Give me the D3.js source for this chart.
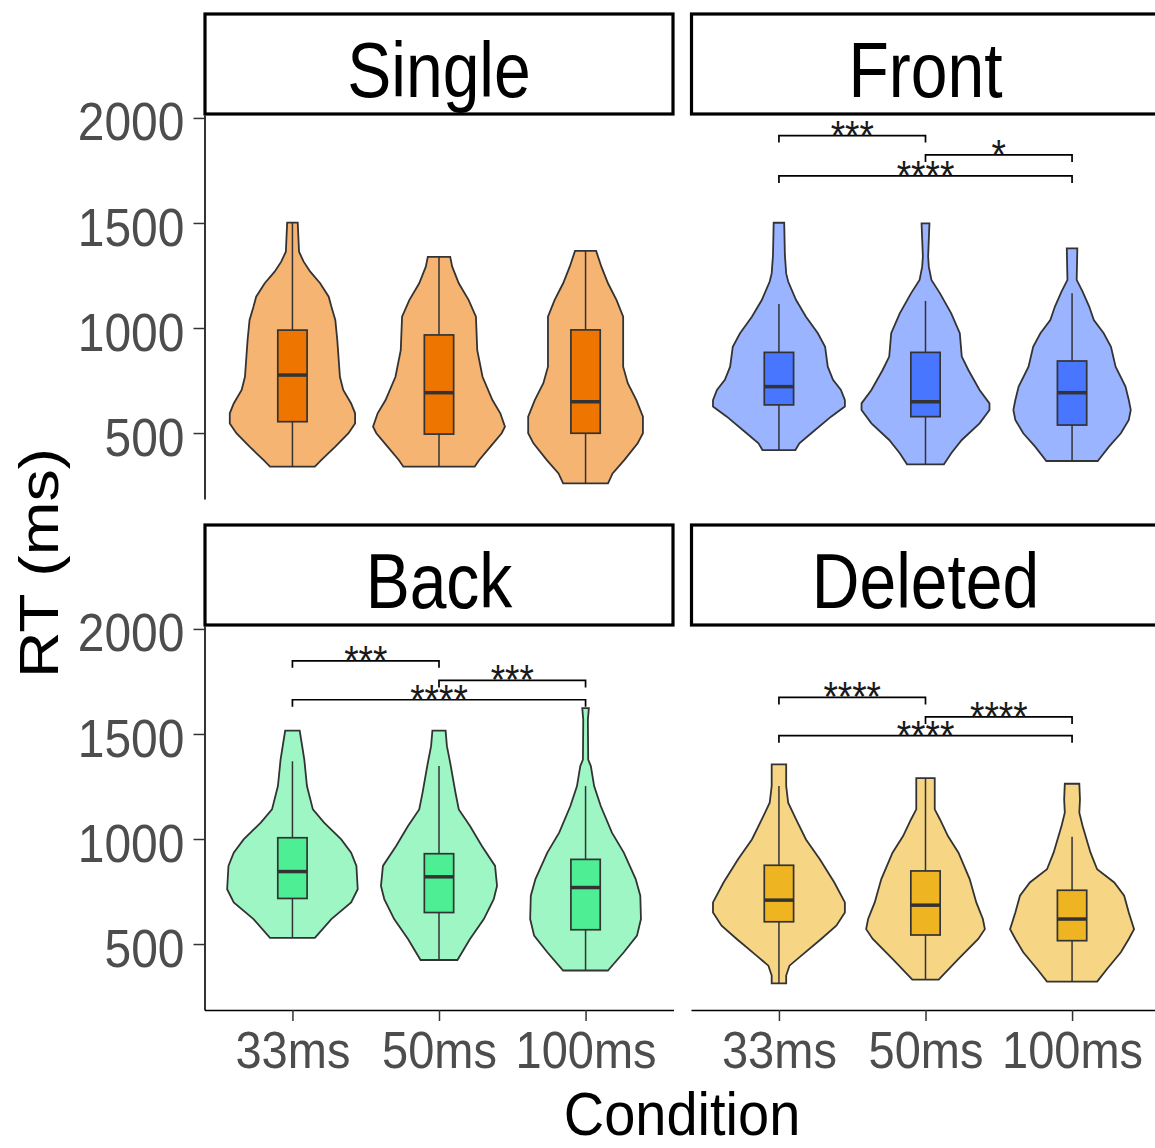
<!DOCTYPE html>
<html>
<head>
<meta charset="utf-8">
<script src="https://cdn.jsdelivr.net/npm/d3@7"></script>
<style>
  html, body { margin: 0; padding: 0; background: #ffffff; }
  svg { display: block; }
</style>
</head>
<body>
<svg id="chart" width="1155" height="1148"></svg>
<script>
// ---- data -------------------------------------------------------------
const conditions = ["33ms", "50ms", "100ms"];
const panelNames = ["Single", "Front", "Back", "Deleted"];
const yTicks = [500, 1000, 1500, 2000];

// Violin outlines: [RT (ms), relative density], from lowest to highest RT
const singleDensity = [
  [[340,0.34],[372,0.44],[435,0.65],[499,0.85],[546,0.95],[594,0.95],[641,0.89],[705,0.77],[768,0.72],[943,0.68],[1038,0.65],[1102,0.59],[1149,0.55],[1213,0.42],[1268,0.27],[1316,0.17],[1363,0.10],[1502,0.08]],
  [[340,0.54],[372,0.61],[435,0.78],[499,0.95],[530,1.00],[594,0.93],[657,0.81],[768,0.66],[895,0.58],[1054,0.56],[1133,0.45],[1213,0.30],[1292,0.20],[1339,0.17]],
  [[260,0.34],[308,0.41],[372,0.59],[451,0.79],[499,0.87],[578,0.87],[657,0.77],[737,0.64],[816,0.57],[1054,0.57],[1133,0.47],[1213,0.34],[1292,0.24],[1367,0.16]]
];
const frontDensity = [
  [[419,0.25],[451,0.31],[499,0.49],[578,0.79],[626,1.00],[657,1.00],[705,0.94],[753,0.82],[816,0.74],[911,0.70],[975,0.59],[1054,0.41],[1133,0.26],[1221,0.14],[1260,0.11],[1348,0.09],[1501,0.08]],
  [[351,0.28],[404,0.39],[467,0.55],[546,0.82],[610,0.97],[641,0.97],[705,0.82],[800,0.65],[864,0.55],[975,0.52],[1070,0.39],[1165,0.22],[1229,0.09],[1292,0.05],[1340,0.04],[1420,0.05],[1498,0.06]],
  [[367,0.39],[435,0.56],[499,0.74],[562,0.86],[610,0.89],[657,0.86],[721,0.81],[816,0.66],[911,0.59],[975,0.48],[1038,0.33],[1102,0.26],[1173,0.16],[1229,0.07],[1379,0.08]]
];
const backDensity = [
  [[529,0.34],[619,0.59],[698,0.89],[761,0.99],[872,0.97],[935,0.89],[998,0.74],[1078,0.48],[1141,0.31],[1252,0.22],[1378,0.18],[1457,0.14],[1516,0.11]],
  [[424,0.28],[524,0.47],[619,0.68],[714,0.83],[777,0.88],[872,0.85],[967,0.65],[1062,0.47],[1141,0.30],[1220,0.25],[1362,0.17],[1442,0.12],[1516,0.10]],
  [[374,0.34],[461,0.58],[540,0.78],[619,0.84],[730,0.83],[809,0.76],[935,0.58],[1030,0.40],[1157,0.23],[1252,0.13],[1347,0.08],[1378,0.04],[1568,0.035],[1623,0.05]]
];
const deletedDensity = [
  [[313,0.11],[350,0.11],[397,0.16],[445,0.34],[524,0.64],[587,0.87],[650,1.00],[698,1.00],[793,0.84],[904,0.62],[998,0.41],[1093,0.26],[1173,0.14],[1252,0.11],[1355,0.11]],
  [[331,0.20],[429,0.50],[524,0.80],[571,0.90],[619,0.87],[698,0.77],[809,0.67],[935,0.50],[1014,0.34],[1093,0.22],[1141,0.14],[1290,0.14]],
  [[321,0.38],[381,0.53],[461,0.74],[524,0.86],[571,0.94],[650,0.86],[730,0.79],[793,0.64],[856,0.38],[935,0.28],[1062,0.16],[1125,0.11],[1188,0.12],[1263,0.11]]
];

// Box statistics: [lower whisker, Q1, median, Q3, upper whisker] (ms)
const singleBox  = [[340,554,776,990,1502],[340,495,692,967,1339],[260,499,649,991,1367]];
const frontBox   = [[419,634,721,884,1114],[351,578,649,884,1129],[367,538,692,843,1165]];
const backBox    = [[529,717,845,1006,1370],[424,650,820,930,1347],[374,568,769,903,1252]];
const deletedBox = [[313,606,709,875,1252],[331,543,685,848,1290],[321,516,619,756,1011]];

// Pairwise comparisons: [group A, group B, bracket height (ms), significance]
const singleTests  = [];
const frontTests   = [["33ms","50ms",1916,"***"],["50ms","100ms",1824,"*"],["33ms","100ms",1724,"****"]];
const backTests    = [["33ms","50ms",1848,"***"],["50ms","100ms",1755,"***"],["33ms","100ms",1663,"****"]];
const deletedTests = [["33ms","50ms",1674,"****"],["50ms","100ms",1581,"****"],["33ms","100ms",1492,"****"]];

// ---- styling ----------------------------------------------------------
const boxColors    = ["#EE7600", "#4876FF", "#4EEE94", "#EEB422"];
const violinColors = ["#F6B473", "#9AB4FF", "#9EF6C4", "#F6D685"];
const ink = "#333333";
const fontFamily = "'Liberation Sans', Arial, Helvetica, sans-serif";

const panels = panelNames.map((name, i) => ({
  name,
  density: [singleDensity, frontDensity, backDensity, deletedDensity][i],
  box: [singleBox, frontBox, backBox, deletedBox][i],
  tests: [singleTests, frontTests, backTests, deletedTests][i],
  boxColor: boxColors[i],
  violinColor: violinColors[i],
  col: i % 2,
  row: Math.floor(i / 2)
}));

// ---- layout -----------------------------------------------------------
const svg = d3.select("#chart");
const panelW = 469, panelH = 384;
const colX = [204.5, 691];
const rowY = [115, 626];
const stripH = 101;

const x = d3.scalePoint().domain(conditions).range([0, panelW]).padding(0.6);
const y = d3.scaleLinear().domain([186, 2014]).range([panelH, 0]);
const halfWidth = d3.scaleLinear().domain([0, 1]).range([0, 0.45 * x.step()]);
const boxHalf = 0.1 * x.step();

// stretched text helper (text is rendered a little taller than wide)
function label(g, tx, ty, str, size, sy, anchor, color) {
  return g.append("text")
    .attr("transform", `translate(${tx},${ty}) scale(1,${sy})`)
    .attr("text-anchor", anchor)
    .attr("font-family", fontFamily)
    .attr("font-size", size)
    .attr("fill", color)
    .text(str);
}

const violinArea = d3.area()
  .x0(d => -halfWidth(d[1]))
  .x1(d => halfWidth(d[1]))
  .y(d => y(d[0]))
  .curve(d3.curveLinear);

panels.forEach(p => {
  const g = svg.append("g").attr("transform", `translate(${colX[p.col]},${rowY[p.row]})`);

  // strip
  g.append("rect")
    .attr("x", 0.5).attr("y", -stripH).attr("width", panelW - 1).attr("height", stripH - 1)
    .attr("fill", "#ffffff").attr("stroke", "#000000").attr("stroke-width", 3.2);
  label(g, panelW / 2, -18, p.name, 66, 1.17, "middle", "#000000");

  // violins and boxes
  conditions.forEach((c, k) => {
    const cg = g.append("g").attr("transform", `translate(${x(c)},0)`);
    cg.append("path")
      .datum(p.density[k])
      .attr("d", violinArea)
      .attr("fill", p.violinColor)
      .attr("stroke", ink)
      .attr("stroke-width", 1.8)
      .attr("stroke-linejoin", "miter");

    const [lo, q1, med, q3, hi] = p.box[k];
    cg.append("line").attr("x1", 0).attr("x2", 0).attr("y1", y(q3)).attr("y2", y(hi))
      .attr("stroke", ink).attr("stroke-width", 1.5);
    cg.append("line").attr("x1", 0).attr("x2", 0).attr("y1", y(lo)).attr("y2", y(q1))
      .attr("stroke", ink).attr("stroke-width", 1.5);
    cg.append("rect")
      .attr("x", -boxHalf).attr("width", 2 * boxHalf)
      .attr("y", y(q3)).attr("height", y(q1) - y(q3))
      .attr("fill", p.boxColor).attr("stroke", ink).attr("stroke-width", 1.7);
    cg.append("line").attr("x1", -boxHalf).attr("x2", boxHalf).attr("y1", y(med)).attr("y2", y(med))
      .attr("stroke", ink).attr("stroke-width", 3.5);
  });

  // significance brackets
  const tip = 7;
  p.tests.forEach(([a, b, h, sig]) => {
    const yy = y(h);
    g.append("path")
      .attr("d", `M${x(a)},${yy + tip}V${yy}H${x(b)}V${yy + tip}`)
      .attr("fill", "none").attr("stroke", "#000000").attr("stroke-width", 1.7);
    label(g, (x(a) + x(b)) / 2, yy + 14, sig, 37, 1.15, "middle", "#1a1a1a");
  });

  // y axis on the left column
  if (p.col === 0) {
    const ax = g.append("g").call(d3.axisLeft(y).tickValues(yTicks).tickSize(11).tickSizeOuter(0).tickFormat(d3.format("d")));
    ax.select(".domain").attr("stroke", "#000000").attr("stroke-width", 1.6);
    ax.selectAll(".tick line").attr("stroke", ink).attr("stroke-width", 1.5);
    ax.selectAll(".tick text")
      .attr("font-family", fontFamily).attr("font-size", 48).attr("fill", "#4D4D4D")
      .attr("x", -20).attr("dy", "0.41em")
      .attr("transform", "scale(1,1.12)");
  }
  // x axis on the bottom row
  if (p.row === 1) {
    const ax = g.append("g").attr("transform", `translate(0,${panelH})`)
      .call(d3.axisBottom(x).tickSize(11).tickSizeOuter(0));
    ax.select(".domain").attr("stroke", "#000000").attr("stroke-width", 1.6);
    ax.selectAll(".tick line").attr("stroke", ink).attr("stroke-width", 1.5);
    ax.selectAll(".tick text")
      .attr("font-family", fontFamily).attr("font-size", 47).attr("fill", "#4D4D4D")
      .attr("y", 53).attr("dy", 0)
      .attr("transform", "scale(1,1.1)");
  }
});

// axis titles
label(svg, 682, 1135, "Condition", 56, 1.1, "middle", "#000000");
svg.append("text")
  .attr("transform", "translate(58,563) rotate(-90) scale(1.15,1)")
  .attr("text-anchor", "middle")
  .attr("font-family", fontFamily)
  .attr("font-size", 56)
  .attr("fill", "#000000")
  .text("RT (ms)");
</script>
</body>
</html>
